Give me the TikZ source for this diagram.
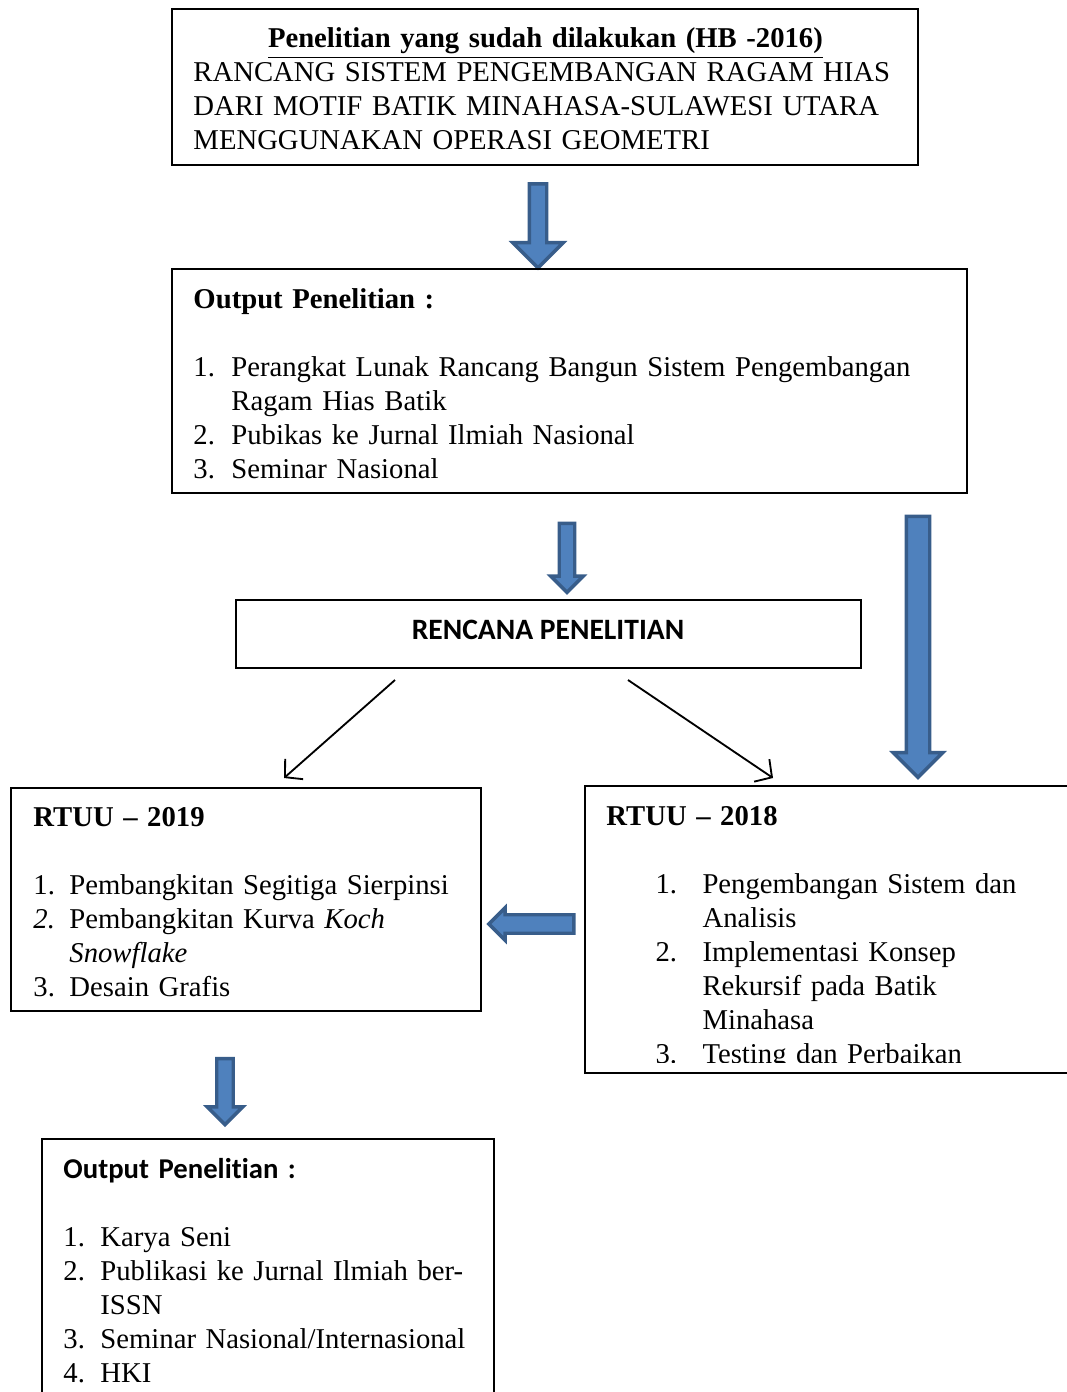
\documentclass[tikz,border=0pt]{standalone}
\usepackage{fontspec}
\setmainfont{Liberation Serif}
\setsansfont{Carlito}[Ligatures=NoCommon]
\usetikzlibrary{shapes.arrows}
\usetikzlibrary{fit}
\usetikzlibrary{arrows.meta}
\definecolor{arrowfill}{RGB}{79,129,189}
\definecolor{arrowline}{RGB}{56,93,138}
\tikzstyle{chart}=[x=0.406pt, y=-0.406pt, font=\fontsize{11.65}{13.8}\selectfont]
\tikzstyle{box}=[draw, line width=0.8pt, inner sep=0pt]
\tikzstyle{txt}=[inner sep=0pt, anchor=north west, align=left]
\tikzstyle{blk}=[single arrow, draw=arrowline, fill=arrowfill, line width=1.4pt, inner xsep=0pt, single arrow tip angle=90]
\tikzstyle{thin}=[line width=0.75pt, -{Straight Barb[length=5pt, width=11pt]}]
\newcommand{\lnum}[2]{\makebox[#1][l]{#2}}
\newcommand{\gap}{13.8pt}

\begin{document}
\begin{tikzpicture}[chart]
	\useasboundingbox (0,0) rectangle (1067,1392);
	
	\node[box, fit={(172,9) (918,165)}] (hb) {};
	\node[txt, text width=320pt] (hbT) at (193,23.2) {\strut\makebox[285.8pt]{\textbf{\underline{Penelitian yang sudah dilakukan (HB -2016)}}}\\
		RANCANG SISTEM PENGEMBANGAN RAGAM HIAS\\
		DARI MOTIF BATIK MINAHASA-SULAWESI UTARA\\
		MENGGUNAKAN OPERASI GEOMETRI};
	%%
	\node[blk, rotate=-90, minimum height=34.1pt, inner ysep=2.84pt, single arrow head extend=6.7pt] (a1) at (538,221.5) {};
	%%
	\node[box, fit={(172,269) (967,493)}] (out1) {};
	\node[txt, text width=320pt] (out1T) at (193,284.2) {\strut\textbf{Output Penelitian :}\\[\gap]
		\lnum{15.4pt}{1.}Perangkat Lunak Rancang Bangun Sistem Pengembangan\\
		\hspace*{15.4pt}Ragam Hias Batik\\
		\lnum{15.4pt}{2.}Pubikas ke Jurnal Ilmiah Nasional\\
		\lnum{15.4pt}{3.}Seminar Nasional};
	%%
	\node[blk, rotate=-90, minimum height=28pt, inner ysep=2.44pt, single arrow head extend=3.45pt] (a2) at (567,554) {};
	\node[blk, rotate=-90, minimum height=106pt, inner ysep=4.06pt, single arrow head extend=5.3pt] (a3) at (918,641) {};
	%%%%%%
	\node[box, fit={(236,600) (861,668)}] (rencana) {};
	\node[inner sep=0pt, font=\sffamily\bfseries\fontsize{12}{14}\selectfont] (rencanaT) at (548,630) {RENCANA PENELITIAN};
	%%
	\coordinate (l1) at (395,680);
	\coordinate (l2) at (284,778);
	\coordinate (r1) at (628,680);
	\coordinate (r2) at (773,778);
	\draw[thin] (l1) -- (l2);
	\draw[thin] (r1) -- (r2);
	%%%%%%
	\node[box, fit={(11,788) (481,1011)}] (rt19) {};
	\node[txt, text width=190pt] (rt19T) at (33,802.2) {\strut\textbf{RTUU -- 2019}\\[\gap]
		\lnum{14.6pt}{1.}Pembangkitan Segitiga Sierpinsi\\
		\lnum{14.6pt}{\textit{2.}}Pembangkitan Kurva \textit{Koch}\\
		\hspace*{14.6pt}\textit{Snowflake}\\
		\lnum{14.6pt}{3.}Desain Grafis};
	%%
	\node[box, fit={(585,786) (1080,1073)}] (rt18) {};
	\begin{scope}
		\clip (585,786) rectangle (1067,1062);
		\node[txt, text width=190pt] (rt18T) at (606,801.2) {\strut\textbf{RTUU -- 2018}\\[\gap]
			\hspace*{19.9pt}\lnum{19.1pt}{1.}Pengembangan Sistem dan\\
			\hspace*{39pt}Analisis\\
			\hspace*{19.9pt}\lnum{19.1pt}{2.}Implementasi Konsep\\
			\hspace*{39pt}Rekursif pada Batik\\
			\hspace*{39pt}Minahasa\\
			\hspace*{19.9pt}\lnum{19.1pt}{3.}Testing dan Perbaikan};
	\end{scope}
	%%
	\node[blk, rotate=180, minimum height=34.5pt, inner ysep=3.05pt, single arrow head extend=2.84pt] (a4) at (536,924) {};
	\node[blk, rotate=-90, minimum height=26.8pt, inner ysep=2.64pt, single arrow head extend=3.86pt] (a5) at (225,1087.5) {};
	%%%%%%
	\node[box, fit={(42,1139) (494,1410)}] (out2) {};
	\node[txt, text width=180pt] (out2T) at (63,1154.2) {\strut{\sffamily\bfseries Output Penelitian :}\\[\gap]
		\lnum{15pt}{1.}Karya Seni\\
		\lnum{15pt}{2.}Publikasi ke Jurnal Ilmiah ber-\\
		\hspace*{15pt}ISSN\\
		\lnum{15pt}{3.}Seminar Nasional/Internasional\\
		\lnum{15pt}{4.}HKI};
\end{tikzpicture}
\end{document}
